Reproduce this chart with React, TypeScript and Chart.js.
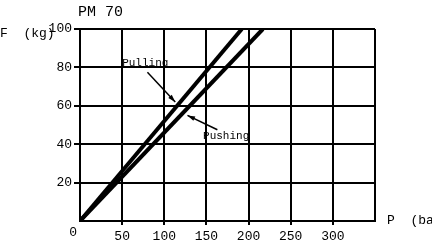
import React, { useEffect, useRef } from "react";
import { Chart, registerables } from "chart.js";

Chart.register(...registerables);

const chartTitle = "PM 70";
const xAxisLabel = "P  (bar)";
const yAxisLabel = "F  (kg)";
const pullingP = [0, 192];
const pullingF = [0, 100];
const pushingP = [0, 217];
const pushingF = [0, 100];
const xTicks = [50, 100, 150, 200, 250, 300];
const yTicks = [20, 40, 60, 80, 100];
// annotations in data coordinates: [text, textX, textY, arrowFromX, arrowFromY, arrowToX, arrowToY]
const pullingNote = ["Pulling", 50, 82, 80, 77.5, 113, 62] as const;
const pushingNote = ["Pushing", 146, 44, 163, 47.5, 127.5, 55] as const;

const FONT = "'Liberation Mono', 'Courier New', monospace";

export default function App() {
  const ref = useRef<HTMLCanvasElement | null>(null);
  useEffect(() => {
    if (!ref.current) return;
    const notesPlugin = {
      id: "notes",
      afterDraw(chart: any) {
        const ctx = chart.ctx;
        const xs = chart.scales.x;
        const ys = chart.scales.y;
        const ca = chart.chartArea;
        ctx.save();
        ctx.fillStyle = "#000";
        ctx.strokeStyle = "#000";
        ctx.font = `15px ${FONT}`;
        ctx.textBaseline = "middle";
        ctx.textAlign = "left";
        ctx.fillText(chartTitle, ca.left - 2, 12);
        ctx.font = `13px ${FONT}`;
        ctx.fillText(yAxisLabel, 0, ca.top + 5);
        ctx.fillText(xAxisLabel, ca.right + 12, ca.bottom);
        ctx.textAlign = "right";
        ctx.fillText("0", ca.left - 3, ca.bottom + 12);
        ctx.font = `11px ${FONT}`;
        ctx.textAlign = "left";
        for (const n of [pullingNote, pushingNote]) {
          const [t, tx, ty, fx, fy, ex, ey] = n;
          ctx.fillText(t, xs.getPixelForValue(tx), ys.getPixelForValue(ty));
          const x1 = xs.getPixelForValue(fx);
          const y1 = ys.getPixelForValue(fy);
          const x2 = xs.getPixelForValue(ex);
          const y2 = ys.getPixelForValue(ey);
          ctx.lineWidth = 1.5;
          ctx.beginPath();
          ctx.moveTo(x1, y1);
          ctx.lineTo(x2, y2);
          ctx.stroke();
          const a = Math.atan2(y2 - y1, x2 - x1);
          const L = 8;
          ctx.beginPath();
          ctx.moveTo(x2, y2);
          ctx.lineTo(x2 - L * Math.cos(a - 0.3), y2 - L * Math.sin(a - 0.3));
          ctx.lineTo(x2 - L * Math.cos(a + 0.3), y2 - L * Math.sin(a + 0.3));
          ctx.closePath();
          ctx.fill();
        }
        ctx.restore();
      },
    };
    const chart = new Chart(ref.current, {
      type: "scatter",
      data: {
        datasets: [
          {
            label: "Pulling",
            data: pullingP.map((p, i) => ({ x: p, y: pullingF[i] })),
            showLine: true,
            borderColor: "#000",
            borderWidth: 4,
            pointRadius: 0,
          },
          {
            label: "Pushing",
            data: pushingP.map((p, i) => ({ x: p, y: pushingF[i] })),
            showLine: true,
            borderColor: "#000",
            borderWidth: 4,
            pointRadius: 0,
          },
        ],
      },
      options: {
        animation: false,
        responsive: false,
        layout: { padding: { left: 0, top: 29, right: 57, bottom: 0 } },
        plugins: { legend: { display: false }, tooltip: { enabled: false }, title: { display: false } },
        scales: {
          x: {
            type: "linear",
            min: 0,
            max: 350,
            afterFit(scale: any) {
              scale.height = 24;
            },
            afterBuildTicks(scale: any) {
              scale.ticks = [0, ...xTicks, 350].map((v) => ({ value: v }));
            },
            ticks: {
              callback: (v: any) => (xTicks.includes(Number(v)) ? String(v) : ""),
              font: { family: FONT, size: 13 },
              color: "#000",
              padding: 4,
              maxRotation: 0,
              autoSkip: false,
            },
            grid: {
              color: "#000",
              lineWidth: 2,
              tickLength: 4,
              tickColor: (c: any) => (c.tick && xTicks.includes(c.tick.value) ? "#000" : "rgba(0,0,0,0)"),
            },
            border: { color: "#000", width: 2 },
          },
          y: {
            type: "linear",
            min: 0,
            max: 100,
            afterFit(scale: any) {
              scale.width = 80;
            },
            afterBuildTicks(scale: any) {
              scale.ticks = [0, ...yTicks].map((v) => ({ value: v }));
            },
            ticks: {
              callback: (v: any) => (yTicks.includes(Number(v)) ? String(v) : ""),
              font: { family: FONT, size: 13 },
              color: "#000",
              padding: 2,
              autoSkip: false,
            },
            grid: {
              color: "#000",
              lineWidth: 2,
              tickLength: 6,
              tickColor: (c: any) => (c.tick && yTicks.includes(c.tick.value) ? "#000" : "rgba(0,0,0,0)"),
            },
            border: { color: "#000", width: 2 },
          },
        },
      },
      plugins: [notesPlugin],
    } as any);
    return () => chart.destroy();
  }, []);
  return (
    <div style={{ position: "fixed", left: 0, top: 0, width: 432, height: 245, background: "#fff" }}>
      <canvas ref={ref} width={432} height={245} />
    </div>
  );
}
